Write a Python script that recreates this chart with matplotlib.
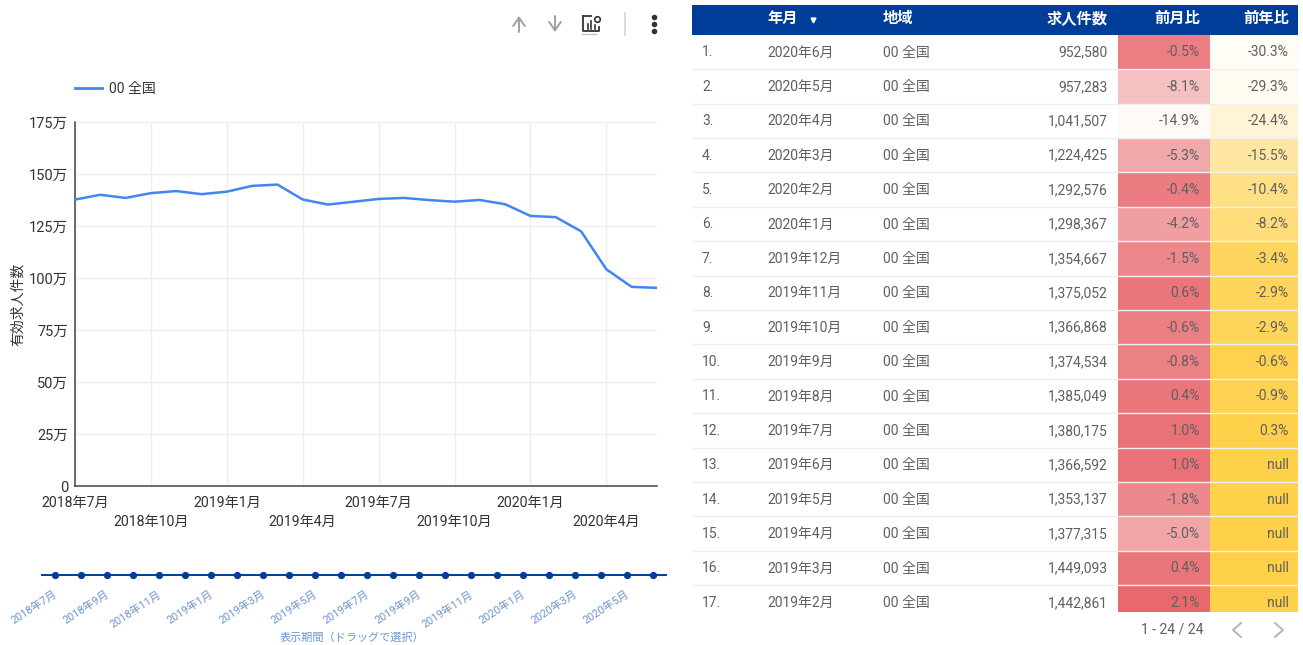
from __future__ import annotations

import matplotlib

matplotlib.use("Agg")
import matplotlib.pyplot as plt
from matplotlib.colors import LinearSegmentedColormap, Normalize
from matplotlib.patches import Rectangle

plt.rcParams["font.family"] = ["Roboto", "Noto Sans CJK JP", "DejaVu Sans"]

WIDTH, HEIGHT = 1303, 645

# line chart, oldest first, in units of 万
LINE_VALUES = [
    137.7, 140.0, 138.5, 140.8, 141.8, 140.3, 141.5, 144.29, 144.91, 137.73, 135.31, 136.66,
    138.02, 138.50, 137.45, 136.69, 137.51, 135.47, 129.84, 129.26, 122.44, 104.15, 95.73, 95.26,
]
Y_TICKS = [0, 25, 50, 75, 100, 125, 150, 175]
Y_TICK_LABELS = ["0", "25万", "50万", "75万", "100万", "125万", "150万", "175万"]
X_TICKS = [0, 3, 6, 9, 12, 15, 18, 21]
X_TICK_LABELS = [
    "2018年7月", "2018年10月", "2019年1月", "2019年4月",
    "2019年7月", "2019年10月", "2020年1月", "2020年4月",
]
SERIES_NAME = "00 全国"
Y_LABEL = "有効求人件数"

# range slider under the chart
SLIDER_TICKS = [0, 2, 4, 6, 8, 10, 12, 14, 16, 18, 20, 22]
SLIDER_LABELS = [
    "2018年7月", "2018年9月", "2018年11月", "2019年1月", "2019年3月", "2019年5月",
    "2019年7月", "2019年9月", "2019年11月", "2020年1月", "2020年3月", "2020年5月",
]
SLIDER_TITLE = "表示期間（ドラッグで選択）"

# table
HEADERS = ["年月", "地域", "求人件数", "前月比", "前年比"]
MONTHS = [
    "2020年6月", "2020年5月", "2020年4月", "2020年3月", "2020年2月", "2020年1月",
    "2019年12月", "2019年11月", "2019年10月", "2019年9月", "2019年8月", "2019年7月",
    "2019年6月", "2019年5月", "2019年4月", "2019年3月", "2019年2月",
]
COUNTS = [
    952580, 957283, 1041507, 1224425, 1292576, 1298367, 1354667, 1375052, 1366868,
    1374534, 1385049, 1380175, 1366592, 1353137, 1377315, 1449093, 1442861,
]
MOM = [-0.5, -8.1, -14.9, -5.3, -0.4, -4.2, -1.5, 0.6, -0.6, -0.8, 0.4, 1.0, 1.0, -1.8, -5.0, 0.4, 2.1]
YOY = [-30.3, -29.3, -24.4, -15.5, -10.4, -8.2, -3.4, -2.9, -2.9, -0.6, -0.9, 0.3, None, None, None, None, None]
PAGER = "1 - 24 / 24"

TEXT = "#5f5f5f"
BLUE = "#4285f4"
NAVY = "#003d99"
SLIDER_TEXT = "#6f94cf"


def px_axes(fig, left, top, right, bottom):
    return fig.add_axes([left / WIDTH, 1 - bottom / HEIGHT, (right - left) / WIDTH, (bottom - top) / HEIGHT])


def draw_line_chart(fig):
    ax = px_axes(fig, 75, 122, 657, 486)
    ax.plot(range(len(LINE_VALUES)), LINE_VALUES, color=BLUE, linewidth=1.8, solid_joinstyle="round", zorder=3)
    ax.set_xlim(0, len(LINE_VALUES) - 1)
    ax.set_ylim(0, 175)
    ax.set_yticks(Y_TICKS, Y_TICK_LABELS, fontsize=10.5, color="#333333")
    ax.set_xticks(X_TICKS, X_TICK_LABELS, fontsize=10.2, color="#333333")
    ax.tick_params(length=0, pad=5)
    for i, tick in enumerate(ax.xaxis.get_major_ticks()):
        tick.set_pad(7 if i % 2 == 0 else 21)
    ax.grid(color="#eeeeee", linewidth=1)
    ax.set_axisbelow(True)
    for side in ("top", "right"):
        ax.spines[side].set_visible(False)
    for side in ("left", "bottom"):
        ax.spines[side].set_color("#444444")
        ax.spines[side].set_linewidth(1.1)
    ax.set_ylabel(Y_LABEL, fontsize=10, color="#333333")
    ax.yaxis.set_label_coords(-0.086, 0.5)


def draw_slider(fig):
    ax = px_axes(fig, 41, 565, 667, 585)
    count = len(LINE_VALUES)
    ax.set_xlim(-14 / 26, count - 1 + 14 / 26)
    ax.set_ylim(-1, 1)
    ax.axhline(0, color=NAVY, linewidth=1.4)
    ax.plot(range(count), [0] * count, "o", color=NAVY, markersize=4.2)
    ax.axis("off")
    for pos, label in zip(SLIDER_TICKS, SLIDER_LABELS):
        ax.annotate(
            label, (pos, 0), xytext=(-1, -10), textcoords="offset points", rotation=33,
            ha="right", va="top", rotation_mode="anchor", fontsize=7.8, color=SLIDER_TEXT,
        )


def draw_table(ax):
    left, right = 692, 1298
    mom_left, yoy_left = 1118, 1210
    top, head_bottom = 5, 35
    first_center, pitch = 52, 34.4
    half = pitch / 2

    ax.add_patch(Rectangle((left, top), right - left, head_bottom - top, color=NAVY, lw=0))
    head_y = 19
    head_style = dict(color="white", fontsize=11, weight="bold", va="center")
    ax.text(767, head_y, HEADERS[0], **head_style)
    ax.plot([813], [head_y + 1], marker="v", color="white", markersize=3.5)
    ax.text(883, head_y, HEADERS[1], **head_style)
    ax.text(1108, head_y, HEADERS[2], ha="right", **head_style)
    ax.text(1200, head_y, HEADERS[3], ha="right", **head_style)
    ax.text(1289, head_y, HEADERS[4], ha="right", **head_style)

    mom_cmap = LinearSegmentedColormap.from_list("mom", ["#fdfaf7", "#e8686e"])
    yoy_cmap = LinearSegmentedColormap.from_list("yoy", ["#fffdf6", "#ffd04a"])
    mom_norm = Normalize(min(MOM), max(MOM))
    yoy_values = [v for v in YOY if v is not None]
    yoy_norm = Normalize(min(yoy_values), max(yoy_values))

    for i, month in enumerate(MONTHS):
        y = first_center + i * pitch
        row_bottom = min(y + half, 612)
        ax.add_patch(Rectangle((mom_left, y - half), yoy_left - mom_left, row_bottom - y + half,
                               color=mom_cmap(mom_norm(MOM[i])), lw=0))
        yoy_color = yoy_cmap(1.0) if YOY[i] is None else yoy_cmap(yoy_norm(YOY[i]))
        ax.add_patch(Rectangle((yoy_left, y - half), right - yoy_left, row_bottom - y + half, color=yoy_color, lw=0))
        if i < len(MONTHS) - 1:
            ax.plot([left, right], [y + half, y + half], color="#efefef", linewidth=1, zorder=3)
        text_y = y + 0.5
        ax.text(702, text_y, f"{i + 1}.", color=TEXT, fontsize=10, va="center")
        ax.text(767, text_y, month, color=TEXT, fontsize=10, va="center")
        ax.text(883, text_y, SERIES_NAME, color=TEXT, fontsize=10, va="center")
        ax.text(1108, text_y, f"{COUNTS[i]:,}", color=TEXT, fontsize=10, va="center", ha="right")
        ax.text(1200, text_y, f"{MOM[i]:.1f}%", color=TEXT, fontsize=10, va="center", ha="right")
        yoy_text = "null" if YOY[i] is None else f"{YOY[i]:.1f}%"
        ax.text(1289, text_y, yoy_text, color=TEXT, fontsize=10, va="center", ha="right")

    ax.text(1172, 629, PAGER, color=TEXT, fontsize=10, va="center", ha="center")
    ax.plot([1241, 1233, 1241], [623, 630, 637], color="#b5b5b5", linewidth=1.4)
    ax.plot([1275, 1283, 1275], [623, 630, 637], color="#b5b5b5", linewidth=1.4)


def draw_toolbar(ax):
    gray = "#a0a0a0"
    for x, y_tail, y_head in ((519, 32, 16), (555, 16, 32)):
        ax.annotate("", xy=(x, y_head), xytext=(x, y_tail),
                    arrowprops=dict(arrowstyle="->,head_width=0.42,head_length=0.6", color=gray, lw=1.4, shrinkA=0, shrinkB=0))
    dark = "#333333"
    ax.plot([583, 583, 599, 599], [16, 31, 31, 27], color=dark, linewidth=1.3)
    ax.plot([583, 591], [16, 16], color=dark, linewidth=1.3)
    ax.plot([588, 588], [24, 29], color=dark, linewidth=1.2)
    ax.plot([591, 591], [21, 29], color=dark, linewidth=1.2)
    ax.plot([595, 595], [25, 29], color=dark, linewidth=1.2)
    ax.plot([597], [19], "o", mfc="white", mec=dark, markersize=4, mew=1.2)
    ax.plot([582, 596], [34, 34], color="#c4c4c4", linewidth=1)
    ax.plot([625, 625], [13, 35], color="#d6d6d6", linewidth=1.2)
    ax.plot([654, 654, 654], [17, 24, 31], "o", color=dark, markersize=3, linestyle="none")


def main() -> None:
    fig = plt.figure(figsize=(WIDTH / 100, HEIGHT / 100), dpi=100, facecolor="white")

    overlay = fig.add_axes([0, 0, 1, 1])
    overlay.set_xlim(0, WIDTH)
    overlay.set_ylim(HEIGHT, 0)
    overlay.axis("off")

    draw_line_chart(fig)
    draw_slider(fig)
    draw_table(overlay)
    draw_toolbar(overlay)

    overlay.plot([75, 102], [88, 88], color=BLUE, linewidth=2)
    overlay.text(109, 88.5, SERIES_NAME, fontsize=10, color="#333333", va="center")
    overlay.text(352, 638, SLIDER_TITLE, fontsize=8, color=SLIDER_TEXT, va="center", ha="center")

    fig.savefig("out.png", dpi=100)
    plt.close(fig)


if __name__ == "__main__":
    main()
